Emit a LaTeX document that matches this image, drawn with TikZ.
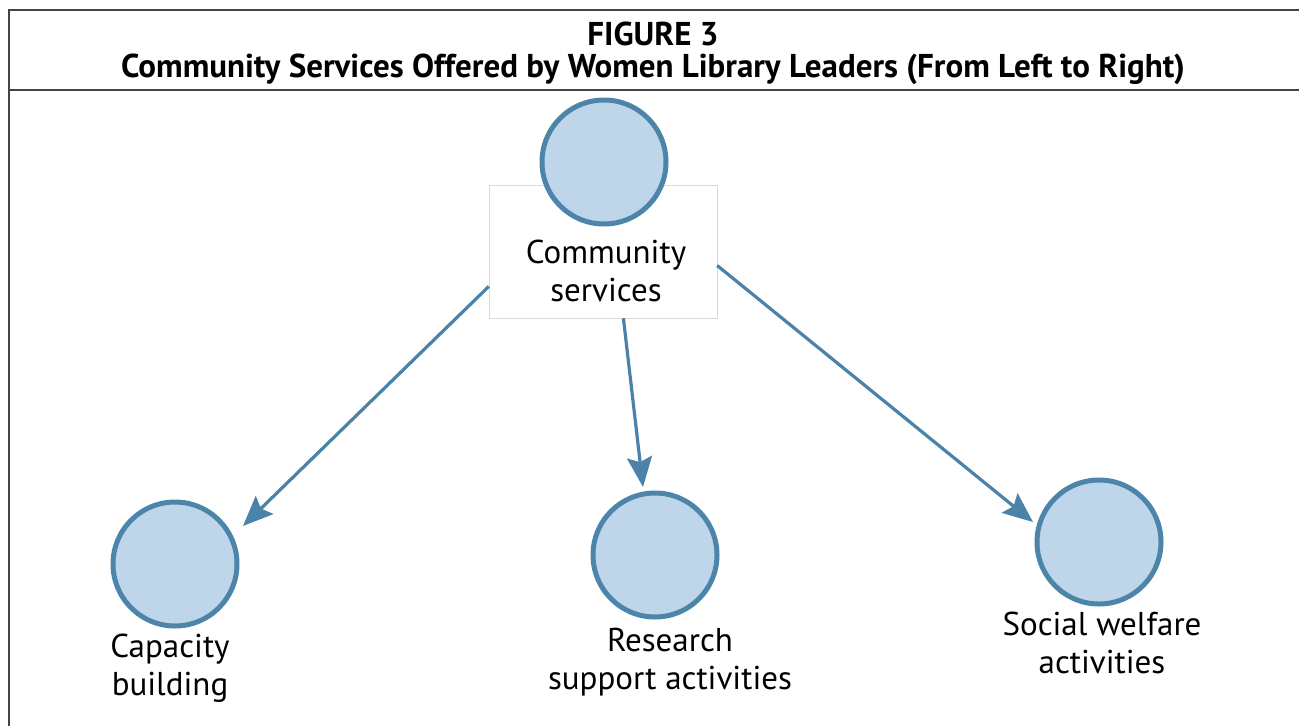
\documentclass[tikz,border=0pt]{standalone}
\usepackage{fontspec}
\setmainfont{PT Sans}
\usetikzlibrary{arrows.meta,calc}
\definecolor{circfill}{HTML}{BFD6EA}
\definecolor{circline}{HTML}{4C84AA}
\definecolor{arrcol}{HTML}{4A82A8}
\definecolor{framecol}{HTML}{444444}
\begin{document}
\begin{tikzpicture}[x=1pt,y=-1pt,
  circ/.style={circle,draw=circline,fill=circfill,line width=5pt,minimum size=124pt,inner sep=0pt},
  lbl/.style={align=center,font=\fontsize{33}{38}\selectfont,inner sep=0pt},
  arr/.style={draw=arrcol,line width=3.2pt,-{Stealth[length=30pt,width=25pt,inset=5pt]}},
  labelbox/.style={draw=black!15,fill=white,minimum width=228pt,minimum height=133pt,inner sep=0pt},
  head/.style={font=\bfseries\fontsize{33}{36}\selectfont,inner sep=0pt}]
\useasboundingbox (0,0) rectangle (1299,726);
% frame
\draw[framecol,line width=1.5pt] (1299,10) -- (9,10) -- (9,726);
\draw[framecol,line width=1.5pt] (9,90) -- (1299,90);
\node[head] (fig) at (653,34) {FIGURE 3};
\node[head] (title) at (653,69) {Community Services Offered by Women Library Leaders (From Left to Right)};
% centre
\node[labelbox] (b) at (603,251.5) {};
\node[circ] (c0) at (604,162) {};
\node[lbl] (t0) at (606,271) {Community\\services};
% bottom circles
\node[circ] (c1) at (175,564) {};
\node[circ] (c2) at (655,555) {};
\node[circ] (c3) at (1099,542) {};
\node[lbl] (t1) at (170,668) {Capacity\\building};
\node[lbl] (t2) at (670,662) {Research\\support activities};
\node[lbl] (t3) at (1102,643) {Social welfare\\activities};
% arrow ends
\coordinate (e1) at ([shift={(68,-38)}]c1.center);
\coordinate (e2) at ([shift={(-12,-68)}]c2.center);
\coordinate (e3) at ([shift={(-66,-20)}]c3.center);
\draw[arr] (b.197) -- (e1);
\draw[arr] (b.287.5) -- (e2);
\draw[arr] (b.353) -- (e3);
\end{tikzpicture}
\end{document}
